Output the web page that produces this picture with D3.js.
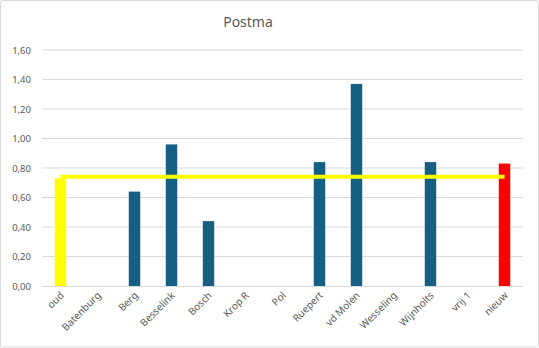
<!DOCTYPE html>
<html>
<head>
<meta charset="utf-8">
<script src="https://cdn.jsdelivr.net/npm/d3@7"></script>
<style>
  html, body { margin: 0; padding: 0; background: #fff; }
  svg { display: block; }
</style>
</head>
<body>
<script>
// Postma: per-person scores with a constant reference line
const categories = ["oud", "Batenburg", "Berg", "Besselink", "Bosch", "Krop R", "Pol", "Ruepert", "vd Molen", "Wesseling", "Wijnholts", "vrij 1", "nieuw"];
const values     = [0.73, null, 0.64, 0.96, 0.44, null, null, 0.84, 1.37, null, 0.84, null, 0.83];
const barColors  = ["#FFFF00", "#156082", "#156082", "#156082", "#156082", "#156082", "#156082", "#156082", "#156082", "#156082", "#156082", "#156082", "#FF0000"];
const lineValues = [0.74, 0.74, 0.74, 0.74, 0.74, 0.74, 0.74, 0.74, 0.74, 0.74, 0.74, 0.74, 0.74];
const yTicks     = [0, 0.2, 0.4, 0.6, 0.8, 1.0, 1.2, 1.4, 1.6];
const title      = "Postma";

const W = 539, H = 348;
const plot = { left: 42, right: 523, top: 50, bottom: 286 };

const svg = d3.select("body").append("svg").attr("width", W).attr("height", H);

// chart frame
svg.append("rect")
  .attr("x", 0.5).attr("y", 0.5).attr("width", W - 1).attr("height", H - 1.5)
  .attr("rx", 2).attr("fill", "#fff").attr("stroke", "#d9d9d9");

const x = d3.scaleBand().domain(categories).range([plot.left, plot.right]).paddingInner(0.69).paddingOuter(0.345);
const y = d3.scaleLinear().domain([0, 1.6]).range([plot.bottom, plot.top]);
const fmt = v => d3.format(".2f")(v).replace(".", ",");

// horizontal gridlines
svg.append("g").selectAll("line").data(yTicks.filter(t => t > 0)).join("line")
  .attr("x1", plot.left).attr("x2", plot.right)
  .attr("y1", d => y(d)).attr("y2", d => y(d))
  .attr("stroke", "#d9d9d9").attr("stroke-width", 1);

// y axis labels
const yAxis = d3.axisLeft(y).tickValues(yTicks).tickFormat(fmt).tickSize(0).tickPadding(11);
const gy = svg.append("g").attr("transform", `translate(${plot.left},0)`).call(yAxis);
gy.select(".domain").remove();
gy.selectAll("text").attr("fill", "#595959").style("font-family", "'Noto Sans', sans-serif").style("font-size", "9.5px");

// bars
svg.append("g").selectAll("rect").data(categories.map((c, i) => ({ c, v: values[i], col: barColors[i] })).filter(d => d.v != null)).join("rect")
  .attr("x", d => x(d.c)).attr("width", x.bandwidth())
  .attr("y", d => y(d.v)).attr("height", d => y(0) - y(d.v))
  .attr("fill", d => d.col);

// category axis
const xAxis = d3.axisBottom(x).tickSize(0).tickPadding(0);
const gx = svg.append("g").attr("transform", `translate(0,${plot.bottom})`).call(xAxis);
gx.select(".domain").attr("stroke", "#d9d9d9").attr("d", `M${plot.left},0.5H${plot.right}`);
gx.selectAll("text")
  .attr("fill", "#595959")
  .style("font-family", "'Noto Sans', sans-serif").style("font-size", "10px")
  .attr("text-anchor", "end")
  .attr("dy", null).attr("y", 0)
  .attr("transform", "translate(4,10) rotate(-45)");

// reference line
const line = d3.line().x((d, i) => x(categories[i]) + x.bandwidth() / 2).y(d => y(d));
svg.append("path").datum(lineValues)
  .attr("d", line).attr("fill", "none")
  .attr("stroke", "#FFFF00").attr("stroke-width", 4);

// title
svg.append("text").attr("x", 248).attr("y", 27).attr("text-anchor", "middle")
  .attr("fill", "#595959").style("font-family", "'Noto Sans', sans-serif").style("font-size", "14px")
  .text(title);
</script>
</body>
</html>
